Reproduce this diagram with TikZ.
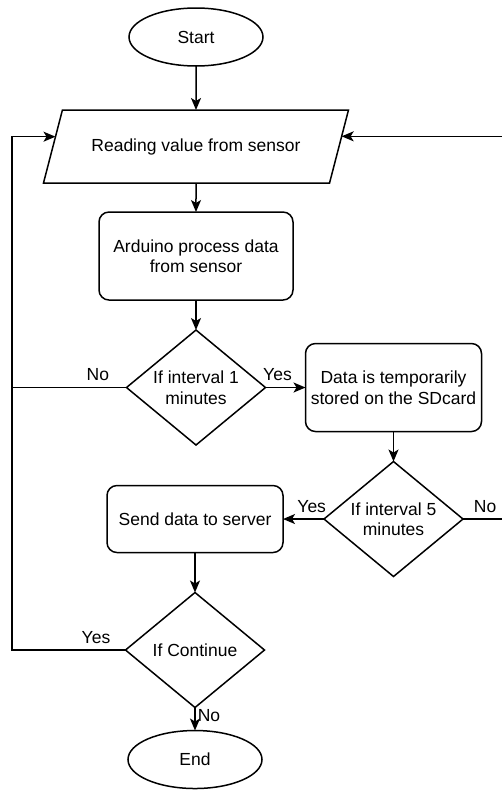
\documentclass[tikz,border=0pt]{standalone}
\usepackage{fontspec}
\setmainfont{Liberation Sans}
\usetikzlibrary{arrows.meta, positioning, shapes.geometric}
\tikzset{
  flowNode/.style={
    draw=black,
    line width=1.5pt,
    align=center,
    inner sep=2pt,
    outer sep=0pt,
    font=\fontsize{17.5}{20.5}\selectfont,
    fill=white
  },
  terminalNode/.style={flowNode, ellipse, minimum width=134pt, minimum height=58pt},
  ioNode/.style={flowNode, trapezium, trapezium left angle=47, trapezium right angle=133,
    trapezium stretches body, minimum width=305pt, minimum height=73pt},
  processNode/.style={flowNode, rectangle, rounded corners=10pt, minimum width=176pt, minimum height=88pt},
  decisionNode/.style={flowNode, diamond, aspect=1.2, inner sep=0pt, minimum width=139pt, minimum height=115pt},
  flowLine/.style={line width=1.5pt, draw=black},
  flowArrow/.style={flowLine, -{Stealth[length=12pt,width=10pt,inset=3pt]}},
  branchLabel/.style={font=\fontsize{17.5}{20.5}\selectfont, inner sep=6pt}
}

\begin{document}
\begin{tikzpicture}
  \useasboundingbox (0,0) rectangle (502pt,-790pt);
  \node[terminalNode] (start) at (196pt,-37pt) {Start};
  \node[ioNode, below=44pt of start] (read) {Reading value from sensor};
  \node[processNode, below=29pt of read, minimum width=194pt] (proc) {Arduino process data\\from sensor};
  \node[decisionNode, below=30pt of proc] (int1) {If interval 1\\minutes};
  \node[processNode, right=40pt of int1] (store) {Data is temporarily\\stored on the SDcard};
  \node[decisionNode, below=30pt of store] (int5) {If interval 5\\minutes};
  \node[processNode, left=41pt of int5, minimum height=67pt] (send) {Send data to server};
  \node[decisionNode, below=40pt of send] (cont) {If Continue};
  \node[terminalNode, below=23pt of cont] (end) {End};

  % loop-back rails
  \coordinate (railL) at (12pt,0);
  \coordinate (railR) at (510pt,0);

  \draw[flowArrow] (start) -- (read);
  \draw[flowArrow] (read) -- (proc);
  \draw[flowArrow] (proc) -- (int1);
  \draw[flowArrow] (int1.east) -- node[branchLabel, pos=0.3, above] {Yes} (store);
  \draw[flowLine] (int1.west) -- node[branchLabel, pos=0.25, above] {No} (int1.west -| railL);
  \draw[flowArrow] (store) -- (int5);
  \draw[flowArrow] (int5.west) -- node[branchLabel, pos=0.3, above] {Yes} (send);
  \draw[flowArrow] (int5.east) -- node[branchLabel, pos=0.47, above] {No} (int5.east -| railR) |- (read.4);
  \draw[flowArrow] (send) -- (cont);
  \draw[flowArrow] (cont.west) -- node[branchLabel, pos=0.26, above] {Yes} (cont.west -| railL) |- (read.176);
  \draw[flowArrow] (cont) -- node[branchLabel, pos=0.35, right, inner sep=2pt] {No} (end);
\end{tikzpicture}
\end{document}
